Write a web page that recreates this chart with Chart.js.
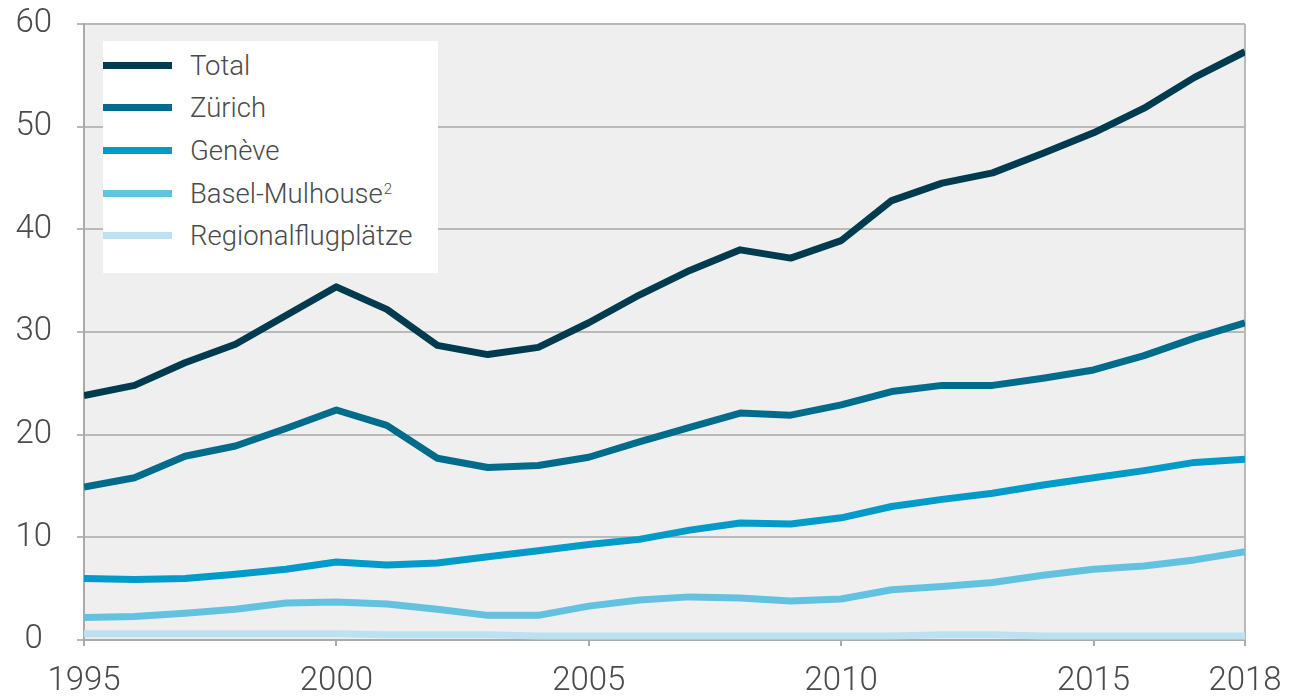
<!DOCTYPE html>
<html>
<head>
<meta charset="utf-8">
<script src="https://cdn.jsdelivr.net/npm/chart.js@4.4.1/dist/chart.umd.min.js"></script>
<style>
  html, body { margin: 0; padding: 0; background: #fff; }
  #wrap { position: relative; width: 1303px; height: 696px; }
  #legend {
    position: absolute; left: 103px; top: 41px; width: 335px; height: 232px;
    background: #fff; font-family: Roboto, sans-serif; font-weight: 300;
    font-size: 27.5px; color: #4a4a4a;
  }
  .row { position: absolute; left: 0; height: 32px; display: flex; align-items: center; white-space: nowrap; }
  .swatch { width: 69px; height: 7px; margin-right: 18px; }
  .row sup { font-size: 15px; position: relative; top: -4px; vertical-align: top; margin-left: 1px; }
</style>
</head>
<body>
<div id="wrap">
  <canvas id="chart" width="1303" height="696"></canvas>
  <div id="legend"></div>
</div>
<script>
// passengers, millions
const years = [1995, 1996, 1997, 1998, 1999, 2000, 2001, 2002, 2003, 2004, 2005, 2006,
               2007, 2008, 2009, 2010, 2011, 2012, 2013, 2014, 2015, 2016, 2017, 2018];
const tickYears = [1995, 2000, 2005, 2010, 2015, 2018];

const total    = [23.8, 24.8, 27.0, 28.8, 31.6, 34.4, 32.2, 28.7, 27.8, 28.5, 30.9, 33.6,
                  36.0, 38.0, 37.2, 38.9, 42.8, 44.5, 45.5, 47.4, 49.4, 51.8, 54.8, 57.3];
const zurich   = [14.9, 15.8, 17.9, 18.9, 20.6, 22.4, 20.9, 17.7, 16.8, 17.0, 17.8, 19.3,
                  20.7, 22.1, 21.9, 22.9, 24.2, 24.8, 24.8, 25.5, 26.3, 27.7, 29.4, 30.9];
const geneve   = [6.0, 5.9, 6.0, 6.4, 6.9, 7.6, 7.3, 7.5, 8.1, 8.7, 9.3, 9.8,
                  10.7, 11.4, 11.3, 11.9, 13.0, 13.7, 14.3, 15.1, 15.8, 16.5, 17.3, 17.6];
const basel    = [2.2, 2.3, 2.6, 3.0, 3.6, 3.7, 3.5, 3.0, 2.4, 2.4, 3.3, 3.9,
                  4.2, 4.1, 3.8, 4.0, 4.9, 5.2, 5.6, 6.3, 6.9, 7.2, 7.8, 8.6];
const regional = [0.6, 0.6, 0.6, 0.6, 0.6, 0.6, 0.5, 0.5, 0.5, 0.4, 0.4, 0.4,
                  0.4, 0.4, 0.4, 0.4, 0.4, 0.5, 0.5, 0.4, 0.4, 0.4, 0.4, 0.4];

const seriesNames = ["Total", "Zürich", "Genève", "Basel-Mulhouse", "Regionalflugplätze"];
const seriesData = [total, zurich, geneve, basel, regional];
const seriesColors = ["#003b50", "#006c8c", "#009bc8", "#64c2e1", "#bce2f2"];

Chart.defaults.font.family = "Roboto, sans-serif";
Chart.defaults.font.weight = "300";
Chart.defaults.color = "#4a4a4a";

// grey plot background and right border
const plotBackground = {
  id: "plotBackground",
  beforeDraw(chart) {
    const { ctx, chartArea: a } = chart;
    ctx.save();
    ctx.fillStyle = "#efefef";
    ctx.fillRect(a.left, a.top, a.right - a.left, a.bottom - a.top);
    ctx.restore();
  },
  beforeDatasetsDraw(chart) {
    const { ctx, chartArea: a } = chart;
    ctx.save();
    ctx.strokeStyle = "#b9b9b9";
    ctx.lineWidth = 2;
    ctx.beginPath();
    ctx.moveTo(a.right, a.top);
    ctx.lineTo(a.right, a.bottom);
    ctx.stroke();
    ctx.restore();
  },
};

const datasets = seriesNames.map((name, i) => ({
  label: name,
  data: years.map((y, j) => ({ x: y, y: seriesData[i][j] })),
  borderColor: seriesColors[i],
  backgroundColor: seriesColors[i],
  borderWidth: 7,
  borderJoinStyle: "round",
  pointRadius: 0,
  tension: 0,
  fill: false,
}));

new Chart(document.getElementById("chart"), {
  type: "line",
  data: { datasets: datasets.slice().reverse() },
  options: {
    responsive: false,
    animation: false,
    devicePixelRatio: 1,
    layout: { padding: { top: 24, right: 58, bottom: 0, left: 0 } },
    plugins: { legend: { display: false }, tooltip: { enabled: false } },
    scales: {
      x: {
        type: "linear",
        min: 1995,
        max: 2018,
        afterBuildTicks: (scale) => {
          scale.ticks = tickYears.map((v) => ({ value: v }));
        },
        afterFit: (scale) => { scale.height = 56; },
        ticks: {
          callback: (v) => String(v),
          font: { size: 33 },
          color: "#4a4a4a",
          padding: 16,
          maxRotation: 0,
        },
        grid: { drawOnChartArea: false, tickLength: 6, color: "#aaaaaa", lineWidth: 2 },
        border: { color: "#aaaaaa", width: 2 },
      },
      y: {
        min: 0,
        max: 60,
        afterFit: (scale) => {
          scale.width = 84;
          // tick padding would otherwise push the plot top down
          scale.paddingTop = 0;
          scale.paddingBottom = 0;
        },
        ticks: {
          stepSize: 10,
          font: { size: 33 },
          color: "#4a4a4a",
          padding: 25,
          crossAlign: "center",
        },
        grid: { color: "#b9b9b9", lineWidth: 2, tickLength: 7 },
        border: { color: "#aaaaaa", width: 2 },
      },
    },
  },
  plugins: [plotBackground],
});

// legend box in the top left corner
const legend = document.getElementById("legend");
seriesNames.forEach((name, i) => {
  const row = document.createElement("div");
  row.className = "row";
  row.style.top = (8 + i * 42.7) + "px";
  const sw = document.createElement("span");
  sw.className = "swatch";
  sw.style.background = seriesColors[i];
  const txt = document.createElement("span");
  txt.textContent = name;
  row.appendChild(sw);
  row.appendChild(txt);
  if (name === "Basel-Mulhouse") {
    const sup = document.createElement("sup");
    sup.textContent = "2";
    row.appendChild(sup);
  }
  legend.appendChild(row);
});
</script>
</body>
</html>
